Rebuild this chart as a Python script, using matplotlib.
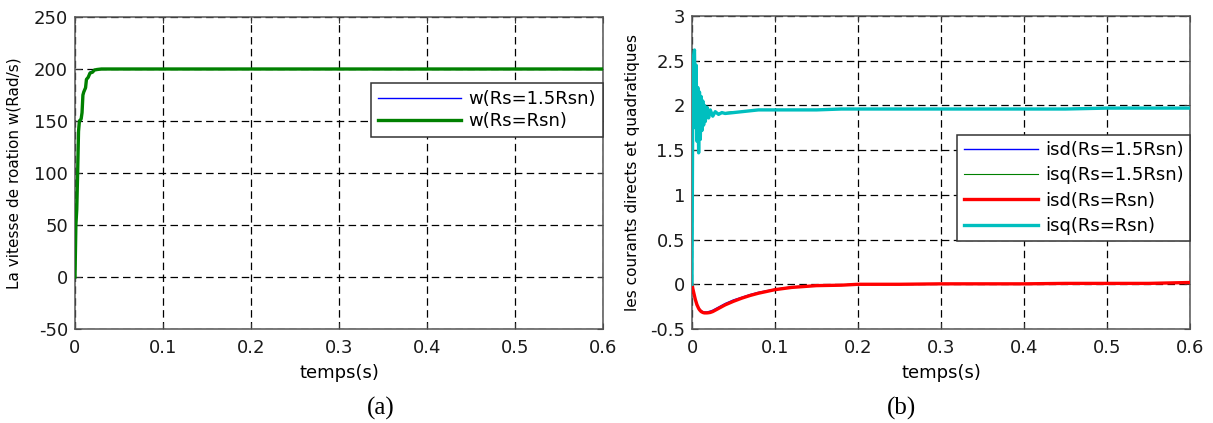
import matplotlib
matplotlib.use("Agg")
import matplotlib.pyplot as plt

plt.rcParams['font.family'] = ['DejaVu Sans']
plt.rcParams['axes.unicode_minus'] = False

# ---- data ----
t_w = [0.0, 0.001, 0.002, 0.003, 0.004, 0.005, 0.007, 0.008, 0.009, 0.010, 0.012,
       0.013, 0.015, 0.017, 0.020, 0.022, 0.025, 0.030, 0.035, 0.05, 0.1, 0.2, 0.3, 0.4, 0.5, 0.6]
w_rsn = [0, 50, 65, 100, 140, 150, 152, 158, 175, 178, 182,
         190, 192, 196, 197, 199, 199.5, 200, 200, 200, 200, 200, 200, 200, 200, 200]
w_15 = [0, 48, 63, 98, 138, 149, 151, 157, 174, 177, 181,
        189, 192, 197, 198, 199, 199.5, 200, 200, 200, 200, 200, 200, 200, 200, 200]

t_i = [0.0, 0.0005, 0.001, 0.002, 0.003, 0.004, 0.005, 0.006, 0.007, 0.008, 0.009,
       0.010, 0.011, 0.012, 0.013, 0.014, 0.015, 0.016, 0.018, 0.020, 0.022, 0.025,
       0.028, 0.032, 0.036, 0.040, 0.05, 0.06, 0.07, 0.08, 0.10, 0.12, 0.15, 0.18,
       0.20, 0.25, 0.30, 0.35, 0.40, 0.45, 0.50, 0.55, 0.60]
isq_rsn = [0.0, 1.2, 2.2, 2.55, 2.62, 1.75, 2.45, 1.6, 2.2, 1.47, 2.15,
           1.62, 2.1, 1.72, 2.05, 1.78, 2.0, 1.82, 1.98, 1.86, 1.95, 1.88,
           1.93, 1.90, 1.92, 1.91, 1.92, 1.93, 1.94, 1.95, 1.95, 1.95, 1.95, 1.96,
           1.96, 1.96, 1.96, 1.96, 1.96, 1.96, 1.97, 1.97, 1.97]
isq_15 = [0.0, 1.1, 2.1, 2.5, 2.58, 1.8, 2.4, 1.65, 2.15, 1.52, 2.1,
          1.66, 2.06, 1.75, 2.02, 1.8, 1.98, 1.84, 1.96, 1.87, 1.94, 1.89,
          1.92, 1.91, 1.92, 1.92, 1.93, 1.93, 1.94, 1.95, 1.95, 1.95, 1.95, 1.96,
          1.96, 1.96, 1.96, 1.96, 1.96, 1.96, 1.97, 1.97, 1.97]
isd_rsn = [0.0, -0.02, -0.05, -0.09, -0.13, -0.17, -0.20, -0.23, -0.25, -0.27, -0.285,
           -0.295, -0.305, -0.31, -0.315, -0.318, -0.32, -0.32, -0.32, -0.318, -0.315, -0.305,
           -0.29, -0.27, -0.25, -0.23, -0.19, -0.155, -0.125, -0.10, -0.06, -0.035, -0.015, -0.01,
           0.0, 0.0, 0.005, 0.005, 0.005, 0.01, 0.01, 0.01, 0.02]
isd_15 = [0.0, -0.02, -0.05, -0.09, -0.12, -0.16, -0.19, -0.22, -0.24, -0.26, -0.275,
          -0.285, -0.295, -0.30, -0.305, -0.308, -0.31, -0.31, -0.31, -0.305, -0.30, -0.29,
          -0.275, -0.255, -0.235, -0.215, -0.175, -0.145, -0.115, -0.09, -0.055, -0.03, -0.013, -0.008,
          0.0, 0.0, 0.005, 0.005, 0.005, 0.01, 0.01, 0.01, 0.02]

x_ticks = [0, 0.1, 0.2, 0.3, 0.4, 0.5, 0.6]
x_ticklabels = ['0', '0.1', '0.2', '0.3', '0.4', '0.5', '0.6']
yw_ticks = [-50, 0, 50, 100, 150, 200, 250]
yi_ticks = [-0.5, 0, 0.5, 1, 1.5, 2, 2.5, 3]
yi_ticklabels = ['-0.5', '0', '0.5', '1', '1.5', '2', '2.5', '3']

W, H = 1213, 423
fig = plt.figure(figsize=(W / 100, H / 100), dpi=100)
fig.patch.set_facecolor('white')

ax1 = fig.add_axes([75 / W, (H - 329) / H, 528 / W, 312 / H])
ax2 = fig.add_axes([692 / W, (H - 329) / H, 498 / W, 313 / H])

TICK_FS = 13

def style(ax):
    ax.grid(True, color='black', linestyle=(0, (6, 3.5)), linewidth=0.9)
    ax.tick_params(direction='in', top=True, right=True, labelsize=TICK_FS,
                   length=4, width=0.8, colors='#333333', labelcolor='#1a1a1a')
    ax.tick_params(axis='y', pad=5)
    ax.tick_params(axis='x', pad=7)
    for s in ax.spines.values():
        s.set_color('#555555')
        s.set_linewidth(1.1)
    ax.set_axisbelow(True)

def style_legend(leg):
    fr = leg.get_frame()
    fr.set_edgecolor('#333333')
    fr.set_linewidth(1.1)

# (a)
ax1.plot(t_w, w_15, color='blue', lw=1.0, label='w(Rs=1.5Rsn)', zorder=2)
ax1.plot(t_w, w_rsn, color='#008000', lw=2.4, label='w(Rs=Rsn)', zorder=3)
ax1.set_xlim(0, 0.6)
ax1.set_ylim(-50, 250)
ax1.set_xticks(x_ticks)
ax1.set_xticklabels(x_ticklabels)
ax1.set_yticks(yw_ticks)
style(ax1)
ax1.set_xlabel('temps(s)', fontsize=13, labelpad=5)
ax1.set_ylabel('La vitesse de roation w(Rad/s)', fontsize=11)
leg1 = ax1.legend(loc='upper right', bbox_to_anchor=(1.0, 0.788),
                  fontsize=13, handlelength=4.6, frameon=True, fancybox=False,
                  borderpad=0.4, labelspacing=0.2, handletextpad=0.4,
                  borderaxespad=0, framealpha=1)
style_legend(leg1)

# (b)
ax2.plot(t_i, isd_15, color='blue', lw=1.0, label='isd(Rs=1.5Rsn)', zorder=2)
ax2.plot(t_i, isq_15, color='#008000', lw=0.8, label='isq(Rs=1.5Rsn)', zorder=2)
ax2.plot(t_i, isd_rsn, color='red', lw=2.4, label='isd(Rs=Rsn)', zorder=3)
ax2.plot(t_i, isq_rsn, color='#00BFBF', lw=2.4, label='isq(Rs=Rsn)', zorder=3)
ax2.set_xlim(0, 0.6)
ax2.set_ylim(-0.5, 3)
ax2.set_xticks(x_ticks)
ax2.set_xticklabels(x_ticklabels)
ax2.set_yticks(yi_ticks)
ax2.set_yticklabels(yi_ticklabels)
style(ax2)
ax2.set_xlabel('temps(s)', fontsize=13, labelpad=5)
ax2.set_ylabel('les courants directs et quadratiques', fontsize=11)
leg2 = ax2.legend(loc='upper right', bbox_to_anchor=(1.0, 0.62),
                  fontsize=13, handlelength=4.1, frameon=True, fancybox=False,
                  borderpad=0.35, labelspacing=0.4, handletextpad=0.4,
                  borderaxespad=0, framealpha=1)
style_legend(leg2)

# y-label positions (pixel x of label centre)
ax1.yaxis.set_label_coords((22 - 75) / 528, 0.5)
ax2.yaxis.set_label_coords((640 - 692) / 498, 0.5)

fig.text(381 / W, 1 - 408 / H, '(a)', fontsize=18, family='Liberation Serif',
         ha='center', va='center')
fig.text(901 / W, 1 - 408 / H, '(b)', fontsize=18, family='Liberation Serif',
         ha='center', va='center')

fig.savefig('out.png', dpi=100, facecolor='white')
